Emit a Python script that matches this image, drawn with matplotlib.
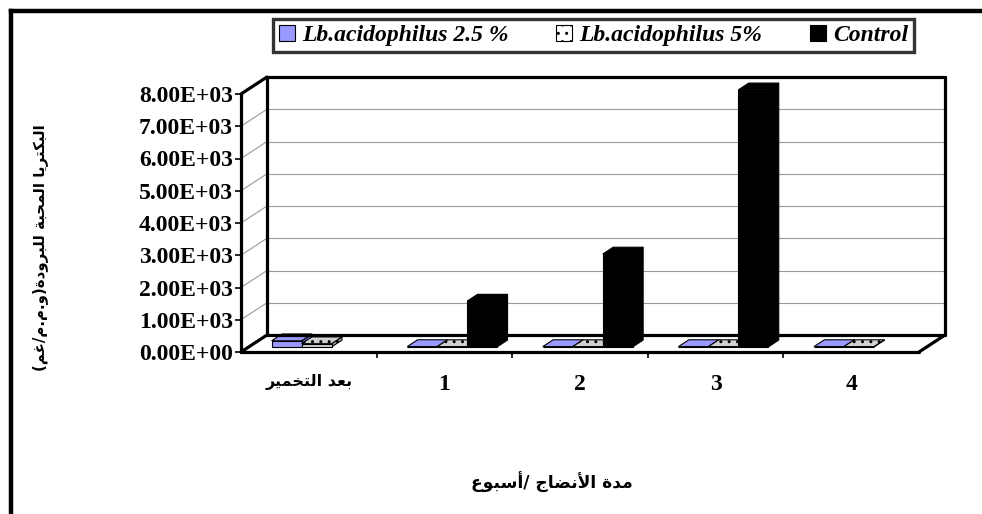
import matplotlib
matplotlib.use("Agg")
import matplotlib.pyplot as plt
from matplotlib.patches import Polygon, Patch
from matplotlib.lines import Line2D
import numpy as np

# ---------------- data ----------------
categories = ["بعد التخمير", "1", "2", "3", "4"]
series_names = ["Lb.acidophilus 2.5 %", "Lb.acidophilus 5%", "Control"]
acid_25 = [190, 10, 10, 10, 10]
acid_5 = [100, 10, 10, 10, 10]
control = [None, 1420, 2880, 7970, None]
y_ticks = [0, 1000, 2000, 3000, 4000, 5000, 6000, 7000, 8000]
y_label = "البكتريا المحبة للبرودة(و.م.م/غم)"
x_label = "مدة الأنضاج /أسبوع"

# ------------- minimal Arabic shaping (presentation forms) -------------
FORMS = {
    'ا': ('\uFE8D', '\uFE8E', None, None),
    'أ': ('\uFE83', '\uFE84', None, None),
    'ب': ('\uFE8F', '\uFE90', '\uFE91', '\uFE92'),
    'ة': ('\uFE93', '\uFE94', None, None),
    'ت': ('\uFE95', '\uFE96', '\uFE97', '\uFE98'),
    'ج': ('\uFE9D', '\uFE9E', '\uFE9F', '\uFEA0'),
    'ح': ('\uFEA1', '\uFEA2', '\uFEA3', '\uFEA4'),
    'خ': ('\uFEA5', '\uFEA6', '\uFEA7', '\uFEA8'),
    'د': ('\uFEA9', '\uFEAA', None, None),
    'ر': ('\uFEAD', '\uFEAE', None, None),
    'س': ('\uFEB1', '\uFEB2', '\uFEB3', '\uFEB4'),
    'ض': ('\uFEBD', '\uFEBE', '\uFEBF', '\uFEC0'),
    'ع': ('\uFEC9', '\uFECA', '\uFECB', '\uFECC'),
    'غ': ('\uFECD', '\uFECE', '\uFECF', '\uFED0'),
    'ك': ('\uFED9', '\uFEDA', '\uFEDB', '\uFEDC'),
    'ل': ('\uFEDD', '\uFEDE', '\uFEDF', '\uFEE0'),
    'م': ('\uFEE1', '\uFEE2', '\uFEE3', '\uFEE4'),
    'ن': ('\uFEE5', '\uFEE6', '\uFEE7', '\uFEE8'),
    'و': ('\uFEED', '\uFEEE', None, None),
    'ي': ('\uFEF1', '\uFEF2', '\uFEF3', '\uFEF4'),
}
LAM_ALEF = {'ا': ('\uFEFB', '\uFEFC'), 'أ': ('\uFEF7', '\uFEF8')}


def shape_ar(s):
    toks = []
    i = 0
    while i < len(s):
        c = s[i]
        if c == 'ل' and i + 1 < len(s) and s[i + 1] in LAM_ALEF:
            toks.append(('LA', s[i + 1]))
            i += 2
        else:
            toks.append(c)
            i += 1

    def is_ar(t):
        return isinstance(t, tuple) or t in FORMS

    def dual(t):
        return (not isinstance(t, tuple)) and t in FORMS and FORMS[t][2] is not None

    out = []
    for k, t in enumerate(toks):
        if not is_ar(t):
            out.append(t)
            continue
        prev = toks[k - 1] if k > 0 else None
        nxt = toks[k + 1] if k + 1 < len(toks) else None
        jp = prev is not None and dual(prev)
        if isinstance(t, tuple):
            iso, fin = LAM_ALEF[t[1]]
            out.append(fin if jp else iso)
            continue
        f = FORMS[t]
        jn = f[2] is not None and nxt is not None and is_ar(nxt)
        if jp and jn:
            out.append(f[3])
        elif jp:
            out.append(f[1])
        elif jn:
            out.append(f[2])
        else:
            out.append(f[0])
    vis = ''.join(out)[::-1]
    vis = vis.translate(str.maketrans({'(': ')', ')': '('}))
    return vis


def lab(s):
    return shape_ar(s) if any(ch in FORMS for ch in s) else s


# ---------------- figure ----------------
W, H = 982, 514
fig = plt.figure(figsize=(W / 100, H / 100), dpi=100)
fig.patch.set_facecolor("white")

ax_l, ax_r, ax_t, ax_b = 241, 919, 94, 352
ax = fig.add_axes([ax_l / W, 1 - ax_b / H, (ax_r - ax_l) / W, (ax_b - ax_t) / H])
ax.set_facecolor("none")
for sp in ax.spines.values():
    sp.set_visible(False)

n = len(categories)
ymax = 8000
ax.set_xlim(0, n)
ax.set_ylim(0, ymax)

# depth offset (oblique projection) in data units
DX = 26 / (ax_r - ax_l) * n
DY = 17 / (ax_b - ax_t) * ymax

thick = dict(color="black", lw=2.3, solid_capstyle="round", clip_on=False, zorder=5)
grid = dict(color="#9a9a9a", lw=0.8, clip_on=False, zorder=1)

# gridlines: side wall + back wall
for v in y_ticks[1:-1]:
    ax.plot([0, DX], [v, v + DY], **grid)
    ax.plot([DX, n + DX], [v + DY, v + DY], **grid)

# wall / floor edges
ax.plot([0, 0], [0, ymax], **thick)
ax.plot([0, DX], [ymax, ymax + DY], **thick)
ax.plot([DX, n + DX], [ymax + DY, ymax + DY], **thick)
ax.plot([n + DX, n + DX], [DY, ymax + DY], **thick)
ax.plot([DX, DX], [DY, ymax + DY], **thick)
ax.plot([DX, n + DX], [DY, DY], **thick)
ax.plot([0, n], [0, 0], **thick)
ax.plot([n, n + DX], [0, DY], **thick)
ax.plot([0, DX], [0, DY], **thick)

# bars
bw = 0.221
d0, d1 = 0.3, 0.7
styles = [
    dict(front="#9999FF", top="#9999FF", side="#6666CC", hatch=None, ec="black"),
    dict(front="#D0D0D0", top="#D0D0D0", side="#A8A8A8", hatch="..", ec="black"),
    dict(front="black", top="black", side="black", hatch=None, ec="black"),
]
all_series = [acid_25, acid_5, control]


def bar3d(x0, v, st):
    fx0, fy0 = x0 + d0 * DX, d0 * DY
    bx0, by0 = x0 + d1 * DX, d1 * DY
    front = [(fx0, fy0), (fx0 + bw, fy0), (fx0 + bw, fy0 + v), (fx0, fy0 + v)]
    top = [(fx0, fy0 + v), (fx0 + bw, fy0 + v), (bx0 + bw, by0 + v), (bx0, by0 + v)]
    side = [(fx0 + bw, fy0), (bx0 + bw, by0), (bx0 + bw, by0 + v), (fx0 + bw, fy0 + v)]
    for pts, fc in ((side, st["side"]), (front, st["front"]), (top, st["top"])):
        ax.add_patch(Polygon(pts, closed=True, facecolor=fc, edgecolor=st["ec"],
                             lw=0.8, hatch=st["hatch"], clip_on=False, zorder=3))


for j in range(n):
    for i, vals in enumerate(all_series):
        v = vals[j]
        if v is None:
            continue
        x0 = j + 0.5 - 1.5 * bw + i * bw
        bar3d(x0, v, styles[i])

# y ticks
ax.set_yticks(y_ticks)
ax.set_yticklabels([f"{v:.2E}" for v in y_ticks])
ax.tick_params(axis="y", direction="out", length=4, width=1.2, pad=2,
               labelsize=17)
for t in ax.get_yticklabels():
    t.set_fontfamily("Liberation Serif")
    t.set_fontweight("bold")

# x ticks: boundaries (major) and labels (minor)
ax.set_xticks(list(range(1, n)))
ax.set_xticklabels([])
ax.tick_params(axis="x", which="major", direction="out", length=4, width=1.2)
ax.set_xticks([j + 0.5 for j in range(n)], minor=True)
ax.set_xticklabels([lab(c) for c in categories], minor=True)
ax.tick_params(axis="x", which="minor", length=0, pad=16)
for j, t in enumerate(ax.get_xticklabels(minor=True)):
    if any(ch in FORMS for ch in categories[j]):
        t.set_fontfamily("DejaVu Sans")
        t.set_fontsize(11.5)
        t.set_fontweight("bold")
    else:
        t.set_fontfamily("Liberation Serif")
        t.set_fontsize(17)
        t.set_fontweight("bold")

# axis titles
fig.text(40 / W, 1 - 248 / H, lab(y_label), rotation=90, ha="center", va="center",
         fontsize=10.8, fontweight="bold", family="DejaVu Sans")
fig.text(552 / W, 1 - 482 / H, lab(x_label), ha="center", va="center",
         fontsize=12.3, fontweight="bold", family="DejaVu Sans")

# legend
handles = [
    Patch(facecolor="#9999FF", edgecolor="black", lw=0.8),
    Patch(facecolor="white", edgecolor="black", hatch="..", lw=0.8),
    Patch(facecolor="black", edgecolor="black", lw=0.8),
]
leg = fig.legend(handles, series_names, loc="center", ncol=3,
                 bbox_to_anchor=(593.5 / W, 1 - 35.5 / H), frameon=True,
                 fancybox=False, handlelength=0.7, handleheight=0.7,
                 handletextpad=0.3, columnspacing=2.0, borderpad=0.25,
                 prop=dict(family="Liberation Serif", weight="bold",
                           style="italic", size=17))
leg.get_frame().set_edgecolor("black")
leg.get_frame().set_linewidth(2.4)

# outer frame (left and top edges)
fig.add_artist(Line2D([11 / W, 11 / W], [0, 1 - 11 / H], transform=fig.transFigure,
                      color="black", lw=3.2, solid_capstyle="projecting"))
fig.add_artist(Line2D([11 / W, 1], [1 - 11 / H, 1 - 11 / H], transform=fig.transFigure,
                      color="black", lw=3.2, solid_capstyle="projecting"))

fig.savefig("out.png", dpi=100)
